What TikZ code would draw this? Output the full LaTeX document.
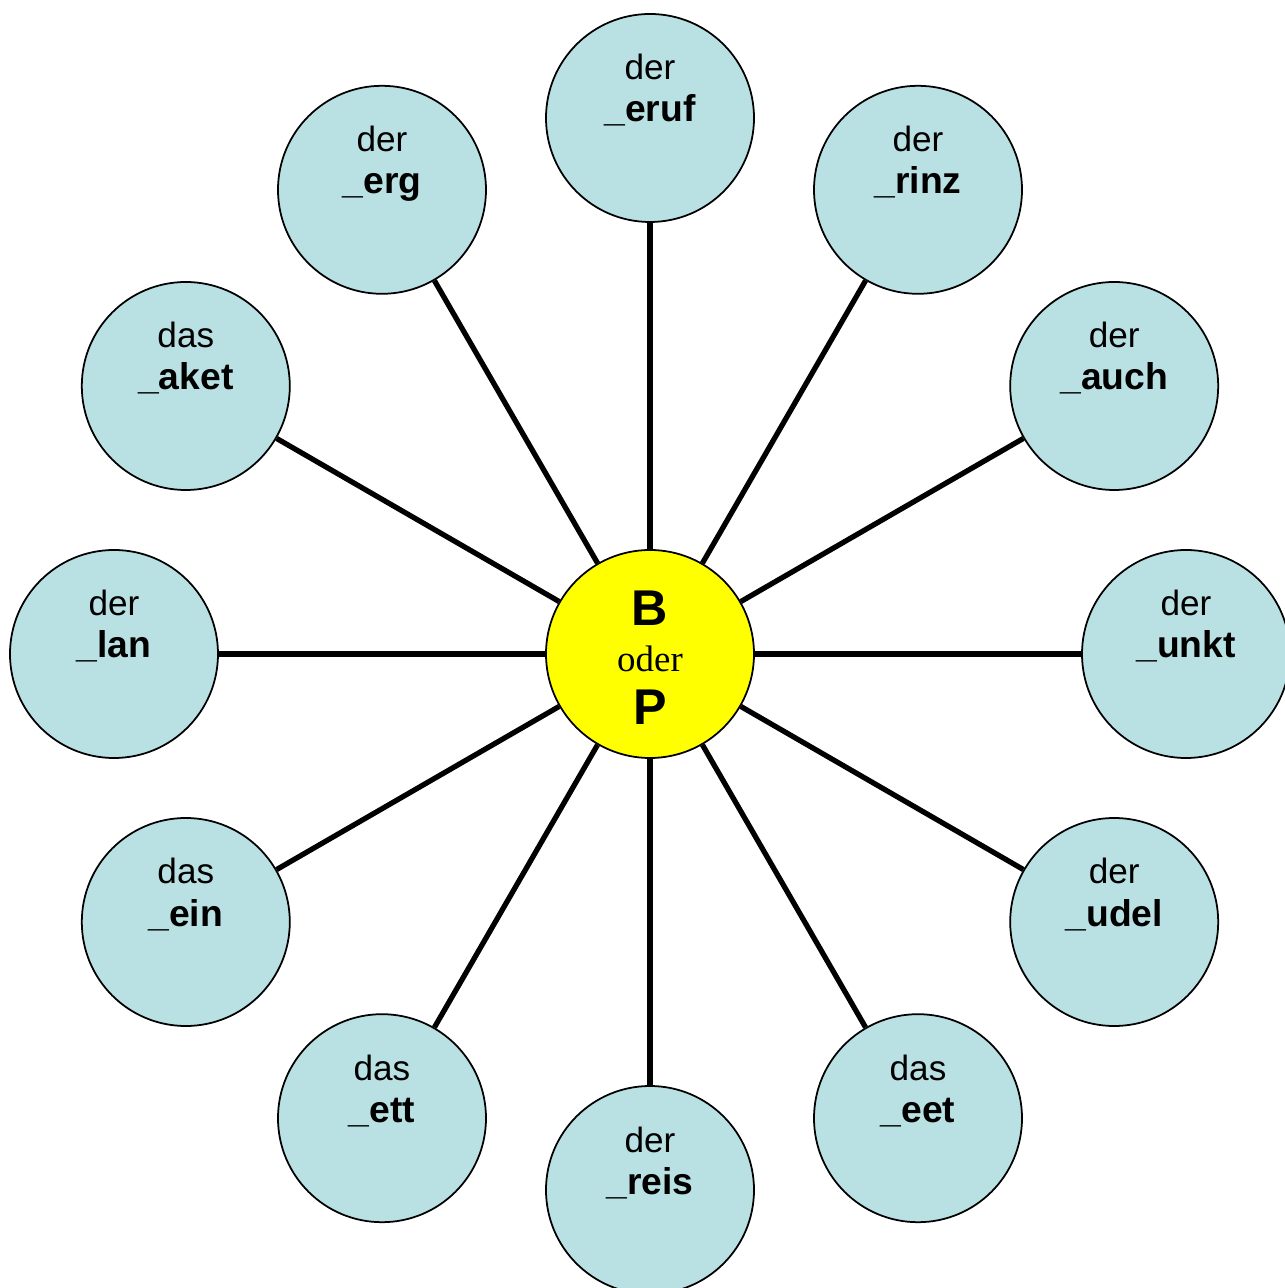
\documentclass[tikz,border=0pt]{standalone}
\usepackage{fontspec}
\setmainfont{Liberation Sans}
\newfontfamily\oderfont{Liberation Serif}
\usepackage{tikz}
\tikzset{>=latex}
\definecolor{myblue}{RGB}{185, 224, 226}
\definecolor{myyellow}{RGB}{255, 255, 0}
\tikzset{
  word/.style = {circle, draw, fill = myblue, line width = 0.5pt, minimum size = 2.08cm, inner sep = 0pt},
  hub/.style = {circle, draw, fill = myyellow, line width = 0.5pt, minimum size = 2.08cm, inner sep = 0pt},
  spoke/.style = {line width = 1.5pt},
  art/.style = {anchor = base, inner sep = 0pt, font = \fontsize{10}{12}\selectfont},
  stem/.style = {anchor = base, inner sep = 0pt, font = \fontsize{10.6}{12}\selectfont\bfseries}
}
\begin{document}
\begin{tikzpicture}
\useasboundingbox (-6.50, -6.34) rectangle (6.34, 6.54);

% Center
\node[hub] (bp) at (0, 0) {};

% Words round the center
\foreach \ang/\art/\stm [count=\i] in {90/der/eruf, 60/der/rinz, 30/der/auch, 0/der/unkt, -30/der/udel, -60/das/eet, -90/der/reis, -120/das/ett, -150/das/ein, 180/der/lan, 150/das/aket, 120/der/erg} {
  \node[word] (w\i) at (\ang:5.36) {};
  \draw[spoke] (bp) -- (w\i);
  \node[art] (a\i) at ([yshift = 3.8mm]w\i.center) {\art};
  \node[stem] (s\i) at ([yshift = -0.4mm]w\i.center) {\_\stm};
}

\node[anchor = base, inner sep = 0pt, font = \fontsize{14.3}{16}\selectfont\bfseries] (bp-b) at ([yshift = 2.8mm]bp.center) {B};
\node[anchor = base, inner sep = 0pt, font = \fontsize{10.5}{12}\selectfont\oderfont] (bp-o) at ([yshift = -1.8mm]bp.center) {oder};
\node[anchor = base, inner sep = 0pt, font = \fontsize{14.3}{16}\selectfont\bfseries] (bp-p) at ([yshift = -7.1mm]bp.center) {P};
\end{tikzpicture}
\end{document}
